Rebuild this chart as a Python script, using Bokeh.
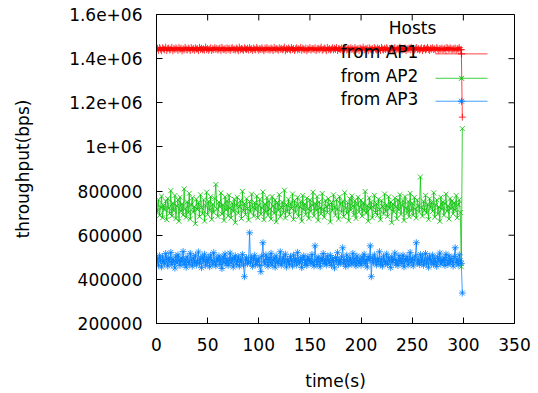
from bokeh.plotting import figure
from bokeh.models import Range1d, FixedTicker, Label
from bokeh.embed import file_html
from bokeh.resources import INLINE

# ---------------- data (throughput in kbps, time in s) ----------------
time_s = list(range(300))

ap1_k = [
    1441, 1447, 1438, 1450, 1443, 1436, 1449, 1444, 1440, 1452,
    1437, 1445, 1448, 1439, 1443, 1451, 1436, 1446, 1441, 1449,
    1444, 1438, 1450, 1442, 1447, 1435, 1445, 1440, 1451, 1443,
    1439, 1448, 1444, 1437, 1450, 1441, 1446, 1438, 1449, 1443,
    1445, 1436, 1451, 1442, 1447, 1440, 1444, 1439, 1452, 1441,
    1446, 1438, 1443, 1449, 1437, 1445, 1441, 1450, 1442, 1447,
    1439, 1444, 1448, 1436, 1451, 1443, 1440, 1446, 1438, 1449,
    1442, 1447, 1437, 1445, 1450, 1441, 1444, 1439, 1448, 1443,
    1436, 1452, 1440, 1446, 1443, 1438, 1449, 1444, 1441, 1447,
    1439, 1450, 1442, 1445, 1437, 1448, 1443, 1440, 1451, 1444,
    1438, 1446, 1441, 1449, 1443, 1436, 1447, 1442, 1450, 1440,
    1445, 1439, 1448, 1444, 1437, 1451, 1441, 1446, 1443, 1438,
    1449, 1442, 1447, 1440, 1444, 1452, 1436, 1445, 1441, 1448,
    1443, 1439, 1450, 1442, 1446, 1437, 1444, 1449, 1440, 1445,
    1441, 1451, 1438, 1447, 1443, 1440, 1448, 1436, 1445, 1442,
    1450, 1439, 1444, 1446, 1441, 1449, 1437, 1443, 1447, 1440,
    1445, 1452, 1438, 1442, 1448, 1444, 1436, 1451, 1441, 1446,
    1439, 1443, 1449, 1440, 1447, 1442, 1450, 1437, 1445, 1444,
    1441, 1448, 1436, 1446, 1443, 1451, 1439, 1444, 1447, 1440,
    1449, 1442, 1445, 1438, 1450, 1443, 1441, 1446, 1437, 1448,
    1444, 1440, 1452, 1439, 1445, 1442, 1447, 1436, 1449, 1443,
    1441, 1446, 1438, 1450, 1444, 1440, 1448, 1442, 1445, 1437,
    1451, 1443, 1439, 1447, 1441, 1449, 1444, 1436, 1446, 1442,
    1448, 1440, 1445, 1450, 1438, 1443, 1447, 1441, 1452, 1444,
    1439, 1446, 1442, 1449, 1437, 1445, 1443, 1448, 1440, 1451,
    1442, 1447, 1438, 1444, 1450, 1441, 1446, 1439, 1443, 1449,
    1436, 1445, 1448, 1440, 1444, 1451, 1442, 1437, 1447, 1443,
    1449, 1441, 1445, 1439, 1450, 1444, 1438, 1446, 1442, 1448,
    1440, 1443, 1447, 1437, 1451, 1445, 1441, 1449, 1444, 1439,
    1446, 1442, 1448, 1438, 1445, 1443, 1450, 1440, 1441, 1135,
]

ap2_k = [
    741, 706, 760, 690, 727, 777, 679, 735, 715, 754,
    670, 766, 723, 699, 802, 687, 745, 711, 780, 676,
    732, 759, 663, 772, 709, 742, 691, 810, 720, 681,
    751, 702, 790, 673, 738, 769, 705, 729, 652, 763,
    717, 747, 684, 783, 726, 697, 760, 664, 733, 795,
    693, 754, 712, 775, 672, 741, 703, 766, 830, 720,
    685, 750, 729, 792, 696, 738, 667, 774, 714, 756,
    688, 781, 724, 678, 745, 708, 763, 657, 736, 772,
    700, 730, 757, 675, 799, 711, 744, 693, 765, 721,
    669, 753, 705, 786, 727, 687, 748, 715, 778, 679,
    735, 762, 696, 723, 796, 670, 742, 706, 771, 690,
    754, 718, 673, 775, 732, 699, 759, 661, 747, 712,
    784, 684, 726, 750, 702, 804, 678, 739, 709, 763,
    693, 745, 721, 787, 672, 756, 705, 733, 772, 685,
    729, 753, 664, 780, 715, 742, 694, 768, 720, 676,
    760, 708, 736, 795, 688, 744, 712, 775, 667, 751,
    724, 697, 789, 717, 681, 757, 730, 703, 766, 738,
    660, 748, 711, 783, 727, 691, 762, 718, 673, 774,
    741, 705, 754, 684, 793, 723, 700, 747, 666, 765,
    714, 778, 732, 693, 756, 676, 739, 772, 706, 726,
    759, 687, 745, 712, 798, 699, 735, 664, 769, 720,
    750, 679, 727, 781, 703, 744, 690, 763, 717, 670,
    756, 730, 696, 787, 709, 738, 685, 774, 721, 751,
    657, 742, 706, 768, 729, 675, 760, 715, 784, 694,
    735, 757, 667, 775, 723, 702, 753, 684, 790, 711,
    745, 691, 771, 718, 678, 759, 732, 705, 864, 727,
    687, 754, 712, 781, 700, 741, 672, 765, 724, 748,
    708, 792, 682, 736, 760, 696, 729, 663, 772, 717,
    751, 690, 744, 786, 709, 733, 673, 766, 720, 756,
    697, 747, 714, 780, 679, 738, 760, 703, 457, 1083,
]

ap3_k = [
    476, 495, 464, 507, 486, 456, 502, 480, 471, 517,
    490, 460, 499, 478, 522, 467, 492, 483, 451, 505,
    474, 511, 487, 463, 497, 480, 526, 468, 491, 455,
    502, 479, 469, 518, 488, 460, 498, 476, 509, 465,
    484, 524, 472, 494, 453, 503, 482, 514, 464, 490,
    475, 499, 457, 510, 487, 468, 521, 479, 461, 497,
    483, 506, 467, 491, 449, 501, 478, 515, 471, 494,
    463, 486, 519, 474, 498, 456, 490, 507, 468, 482,
    502, 460, 492, 478, 513, 465, 412, 488, 498, 471,
    483, 611, 475, 501, 459, 491, 509, 467, 486, 479,
    495, 463, 435, 505, 566, 482, 469, 511, 490, 460,
    499, 476, 518, 465, 487, 497, 455, 506, 480, 472,
    492, 525, 464, 484, 502, 474, 514, 456, 491, 479,
    468, 503, 486, 460, 510, 478, 494, 465, 522, 483,
    474, 498, 453, 490, 507, 469, 487, 463, 502, 482,
    492, 471, 513, 478, 460, 552, 488, 467, 501, 480,
    457, 497, 483, 517, 472, 491, 465, 505, 486, 475,
    509, 463, 494, 479, 452, 499, 484, 521, 468, 488,
    478, 502, 543, 471, 490, 459, 510, 482, 465, 498,
    487, 469, 518, 476, 495, 461, 506, 483, 472, 492,
    464, 501, 480, 514, 471, 490, 456, 503, 486, 552,
    412, 497, 475, 511, 487, 465, 494, 479, 525, 468,
    491, 460, 505, 482, 474, 515, 467, 498, 484, 453,
    502, 478, 490, 519, 469, 486, 463, 507, 480, 495,
    472, 510, 457, 492, 483, 503, 465, 488, 522, 476,
    497, 461, 486, 506, 566, 474, 491, 468, 513, 480,
    501, 464, 484, 517, 471, 494, 455, 505, 487, 475,
    510, 467, 495, 479, 459, 502, 483, 519, 469, 490,
    478, 498, 463, 514, 486, 468, 506, 474, 494, 482,
    460, 503, 543, 476, 491, 465, 511, 484, 472, 338,
]

series_names = ["from AP1", "from AP2", "from AP3"]
legend_title = "Hosts"
x_ticks = [0, 50, 100, 150, 200, 250, 300, 350]
y_ticks = [200000, 400000, 600000, 800000, 1000000, 1200000, 1400000, 1600000]
y_tick_labels = ["200000", "400000", "600000", "800000", "1e+06", "1.2e+06", "1.4e+06", "1.6e+06"]

# ---------------- styling ----------------
FONT = "DejaVu Sans"
FS = "17px"
colors = ["#ff0000", "#00c000", "#0080ff"]
markers = ["cross", "x", "asterisk"]
X0, X1, Y0, Y1 = 0, 350, 200000, 1600000
W, H = 538, 393
ML, MR, MT, MB = 156, 24, 14, 69
TICK = 6

p = figure(width=W, height=H, output_backend="svg", toolbar_location=None,
           x_range=Range1d(X0, X1), y_range=Range1d(Y0, Y1),
           min_border_left=ML, min_border_right=MR, min_border_top=MT, min_border_bottom=MB)
p.grid.visible = False
p.outline_line_color = "black"
p.outline_line_width = 1
p.background_fill_color = "white"
p.border_fill_color = "white"

xa = p.xaxis[0]
ya = p.yaxis[0]
xa.ticker = FixedTicker(ticks=x_ticks)
ya.ticker = FixedTicker(ticks=y_ticks)
ya.major_label_overrides = {t: l for t, l in zip(y_ticks, y_tick_labels)}
for ax in (xa, ya):
    ax.major_tick_in = TICK
    ax.major_tick_out = 0
    ax.minor_tick_line_color = None
    ax.axis_line_color = "black"
    ax.major_tick_line_color = "black"
    ax.major_label_text_font = FONT
    ax.major_label_text_font_size = FS
    ax.major_label_text_color = "black"
    ax.axis_label_text_font = FONT
    ax.axis_label_text_font_size = FS
    ax.axis_label_text_font_style = "normal"
    ax.axis_label_text_color = "black"
xa.axis_label = "time(s)"
ya.axis_label = "throughput(bps)"
xa.major_label_standoff = 14
ya.major_label_standoff = 14
xa.axis_label_standoff = 17
ya.axis_label_standoff = 33

# mirrored ticks on the top and right borders (pointing inward)
dx = (X1 - X0) / (W - ML - MR) * TICK
dy = (Y1 - Y0) / (H - MT - MB) * TICK
p.segment(x0=x_ticks, y0=[Y1] * len(x_ticks), x1=x_ticks, y1=[Y1 - dy] * len(x_ticks),
          line_color="black", line_width=1)
p.segment(x0=[X1] * len(y_ticks), y0=y_ticks, x1=[X1 - dx] * len(y_ticks), y1=y_ticks,
          line_color="black", line_width=1)

for vals, col, mk in zip([ap1_k, ap2_k, ap3_k], colors, markers):
    ys = [v * 1000 for v in vals]
    p.line(time_s, ys, line_color=col, line_width=1, line_alpha=0.75)
    p.scatter(time_s, ys, marker=mk, size=7, line_color=col, line_width=1, line_alpha=0.8)

# ---------------- key (gnuplot style: text left, sample right) ----------------
key_text_x = 256.0
key_x0, key_x1, key_xm = 272.8, 323.6, 298.2
key_text_y = [1.428e6, 1.322e6, 1.216e6]
key_line_y = [1.4216e6, 1.311e6, 1.2071e6]

p.add_layout(Label(x=250.3, y=1.5368e6, text=legend_title, text_align="center",
                   text_baseline="middle", text_font=FONT, text_font_size=FS,
                   text_color="black"))
for name, col, mk, ty, ly in zip(series_names, colors, markers, key_text_y, key_line_y):
    p.add_layout(Label(x=key_text_x, y=ty, text=name, text_align="right",
                       text_baseline="middle", text_font=FONT, text_font_size=FS,
                       text_color="black"))
    p.line([key_x0, key_x1], [ly, ly], line_color=col, line_width=1, line_alpha=0.75)
    p.scatter([key_xm], [ly], marker=mk, size=7, line_color=col, line_width=1)

open("out.html", "w").write(file_html(p, INLINE))
